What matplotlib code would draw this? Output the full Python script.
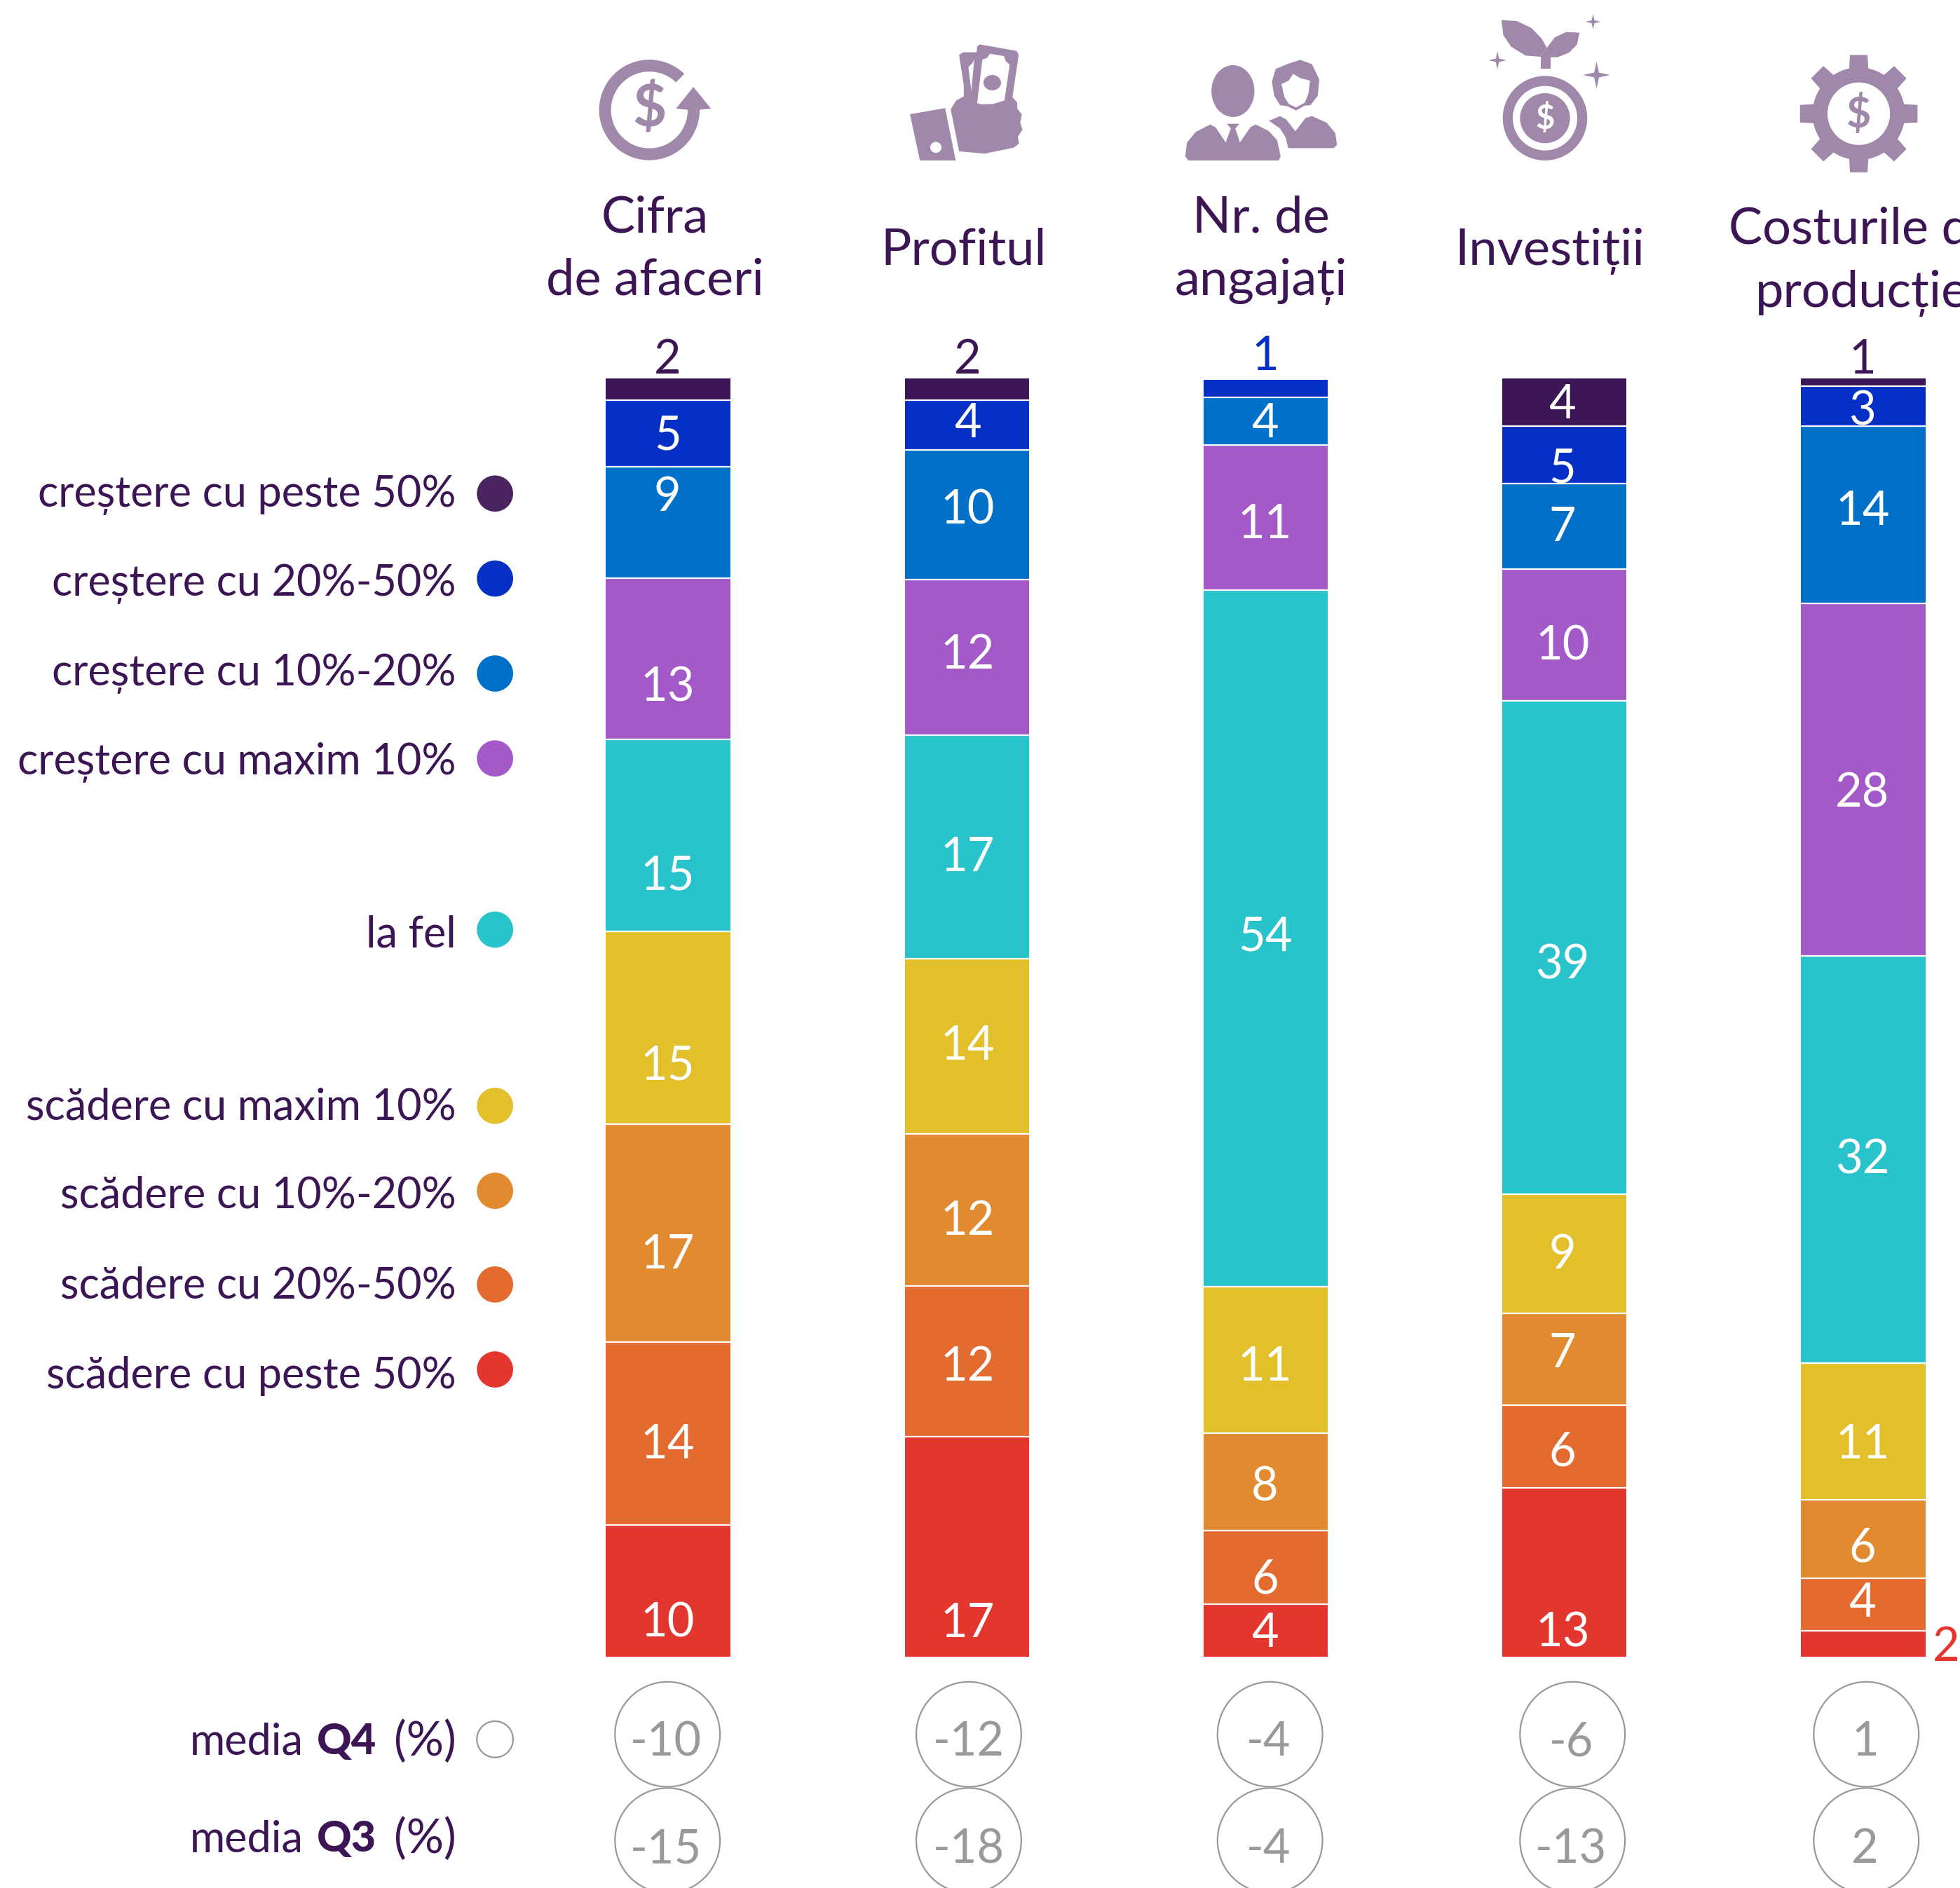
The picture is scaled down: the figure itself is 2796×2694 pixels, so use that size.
import numpy as np
import matplotlib
matplotlib.use('Agg')
import matplotlib.pyplot as plt
from matplotlib.patches import Circle, Ellipse, Polygon, Wedge

plt.rcParams['font.family'] = ['Lato', 'Noto Sans', 'DejaVu Sans']

categories = ['Cifra\nde afaceri', 'Profitul', 'Nr. de\nangajați', 'Investiții', 'Costurile de\nproducție']
series_names = ['creștere cu peste 50%', 'creștere cu 20%-50%', 'creștere cu 10%-20%', 'creștere cu maxim 10%',
                'la fel', 'scădere cu maxim 10%', 'scădere cu 10%-20%', 'scădere cu 20%-50%', 'scădere cu peste 50%']

# bar heights as measured, top segment first
cifra = [1.7, 5.2, 8.7, 12.6, 15.05, 15.05, 17.1, 14.3, 10.3]
profit = [1.7, 3.9, 10.1, 12.2, 17.5, 13.7, 11.9, 11.8, 17.2]
angajati = [0, 1.37, 3.71, 11.34, 54.55, 11.43, 7.63, 5.77, 4.1]
investitii = [3.7, 4.5, 6.7, 10.3, 38.6, 9.3, 7.2, 6.5, 13.2]
costuri = [0.6, 3.13, 13.9, 27.56, 31.87, 10.67, 6.14, 4.11, 2.05]

# printed labels
labels_cifra = [2, 5, 9, 13, 15, 15, 17, 14, 10]
labels_profit = [2, 4, 10, 12, 17, 14, 12, 12, 17]
labels_angajati = [None, 1, 4, 11, 54, 11, 8, 6, 4]
labels_investitii = [4, 5, 7, 10, 39, 9, 7, 6, 13]
labels_costuri = [1, 3, 14, 28, 32, 11, 6, 4, 2]

media_q4 = [-10, -12, -4, -6, 1]
media_q3 = [-15, -18, -4, -13, 2]

colors = ['#3B1554', '#052FC5', '#0070C8', '#A459C8', '#29C4CB', '#E2C02C', '#E28A2F', '#E36B2F', '#E3362F']
TEXT = '#3B1554'
GRAY = '#98999D'
ICON = '#9F88AA'

heights = [cifra, profit, angajati, investitii, costuri]
labels = [labels_cifra, labels_profit, labels_angajati, labels_investitii, labels_costuri]

# label heights, the source places them off-centre
label_y = [[285, 346, 395, 547, 698, 850, 1001, 1153, 1296],
           [285, 336, 405, 521, 683, 834, 974, 1091, 1296],
           [0, 282, 336, 417, 747, 1091, 1187, 1261, 1304],
           [321, 372, 419, 514, 769, 1001, 1080, 1159, 1304],
           [285, 326, 406, 632, 925, 1153, 1236, 1280, 1315]]
label_x = [534, 774, 1012, 1250, 1490]
legend_text_y = [393, 464, 536, 607, 745, 883, 954, 1026, 1098]
legend_dot_y = [395, 463, 539, 607, 744, 885, 953, 1028, 1096]

fig = plt.figure(figsize=(27.96, 26.94), dpi=100)

# bars: y in percent, x in category slots
top_px, bottom_px = 303, 1326
px_per_pct = (bottom_px - top_px) / 100
ax = fig.add_axes([0, 0, 1, 1])
ax.set_xlim((0 - 534.5) / 239, (1568 - 534.5) / 239)
ax.set_ylim((bottom_px - 1511) / px_per_pct, bottom_px / px_per_pct)
ax.axis('off')

for i in range(5):
    bottom = 0
    for j in range(8, -1, -1):
        h = heights[i][j]
        if h > 0:
            ax.bar(i, h, width=0.4165, bottom=bottom, color=colors[j], edgecolor='none')
            if bottom > 0:
                ax.plot([i - 0.2083, i + 0.2083], [bottom, bottom], color='white', lw=1.6, solid_capstyle='butt')
        bottom += h

# overlay in the coordinates of the shrunk reference
ov = fig.add_axes([0, 0, 1, 1])
ov.set_xlim(0, 1568)
ov.set_ylim(1511, 0)
ov.axis('off')
ov.patch.set_alpha(0)

for i in range(5):
    for j in range(9):
        if labels[i][j] is None:
            continue
        c = 'white'
        x = label_x[i]
        if label_y[i][j] < 300:
            c = TEXT if j == 0 else colors[1]
        if i == 4 and j == 8:
            c = colors[8]
            x = 1557
        ov.text(x, label_y[i][j], str(labels[i][j]), color=c, fontsize=48, ha='center', va='center_baseline')

# legend on the left
for name, ty, dy, col in zip(series_names, legend_text_y, legend_dot_y, colors):
    ov.text(365, ty, name, color=TEXT, fontsize=44, ha='right', va='center_baseline')
    ov.add_patch(Circle((396, dy), 14.5, color='#4A2460' if col == colors[0] else col, lw=0))

# headers
ov.text(524, 171, 'Cifra', color=TEXT, fontsize=52, ha='center', va='center_baseline')
ov.text(524, 221, 'de afaceri', color=TEXT, fontsize=52, ha='center', va='center_baseline')
ov.text(771, 197, 'Profitul', color=TEXT, fontsize=52, ha='center', va='center_baseline')
ov.text(1009, 171, 'Nr. de', color=TEXT, fontsize=52, ha='center', va='center_baseline')
ov.text(1009, 221, 'angajați', color=TEXT, fontsize=52, ha='center', va='center_baseline')
ov.text(1240, 197, 'Investiții', color=TEXT, fontsize=52, ha='center', va='center_baseline')
ov.text(1383, 180, 'Costurile de', color=TEXT, fontsize=52, ha='left', va='center_baseline')
ov.text(1404, 231, 'producție', color=TEXT, fontsize=52, ha='left', va='center_baseline')

# media rows
circle_x = [534, 775, 1016, 1258, 1493]
text_x = [533, 775, 1015, 1257, 1492]
for i in range(5):
    ov.add_patch(Circle((circle_x[i], 1388), 42, fc='white', ec=GRAY, lw=1.6))
    ov.add_patch(Circle((circle_x[i], 1473), 42, fc='white', ec=GRAY, lw=1.6))
    ov.text(text_x[i], 1391, str(media_q4[i]), color=GRAY, fontsize=48, ha='center', va='center_baseline')
    ov.text(text_x[i], 1477, str(media_q3[i]), color=GRAY, fontsize=48, ha='center', va='center_baseline')
ov.add_patch(Circle((396, 1392), 14.5, fc='white', ec=GRAY, lw=1.6))


def media_label(y, q):
    r = fig.canvas.get_renderer()
    inv = ov.transData.inverted()
    t = ov.text(365, y, '(%)', color=TEXT, fontsize=48, ha='right', va='center_baseline')
    left = inv.transform(t.get_window_extent(r).get_points())[0][0]
    t = ov.text(left - 14, y, q, color=TEXT, fontsize=44, fontweight='black', ha='right', va='center_baseline')
    left = inv.transform(t.get_window_extent(r).get_points())[0][0]
    ov.text(left - 11, y, 'media', color=TEXT, fontsize=44, ha='right', va='center_baseline')


media_label(1391, 'Q4')
media_label(1469, 'Q3')


# icon outlines were traced in 3x crops of the top strip
def pts(x0, coords):
    return [((x0 + zx / 2.412) / 1.783, zy / 5.35) for zx, zy in coords]


def shape(x0, coords, col=ICON):
    ov.add_patch(Polygon(pts(x0, coords), color=col, lw=0))


def dollar(x, y, size, col=ICON):
    ov.text(x, y, '$', color=col, fontsize=size, fontweight='bold', ha='center', va='center', parse_math=False)


def sparkle(x, y, r):
    k = r * 0.18
    ov.add_patch(Polygon([(x, y - r), (x + k, y - k), (x + r, y), (x + k, y + k),
                          (x, y + r), (x - k, y + k), (x - r, y), (x - k, y - k)], color=ICON, lw=0))


# icon 1, coin with arrow
ov.add_patch(Wedge((519.5, 88), 40.2, 0, 314, width=9.5, color=ICON, lw=0))
shape(820, [(408, 372), (468, 465), (428, 470), (428, 490), (388, 490), (388, 470), (348, 465)])
dollar(519.5, 88, 60)

# icon 2, hand with banknotes
shape(820, [(1153, 489), (1274, 463), (1310, 687), (1187, 687)])
ov.add_patch(Ellipse(pts(820, [(1242, 631)])[0], 9, 8.8, color='white', lw=0))
shape(820, [(1322, 235), (1335, 224), (1382, 224), (1384, 200), (1393, 190), (1520, 218), (1527, 235),
            (1505, 420), (1338, 420), (1338, 365)])
shape(820, [(1354, 287), (1368, 270), (1374, 255), (1364, 390)], 'white')
shape(820, [(1293, 468), (1312, 430), (1338, 413), (1505, 415), (1522, 440), (1522, 465), (1538, 490), (1532, 525),
            (1540, 555), (1524, 585), (1528, 615), (1510, 632), (1410, 658), (1322, 648)])
shape(820, [(1402, 255), (1418, 248), (1428, 230), (1476, 240), (1483, 262), (1496, 277), (1478, 430),
            (1440, 445), (1400, 447), (1384, 442)], 'white')
ov.add_patch(Ellipse(pts(820, [(1436, 354)])[0], 14, 12.3, color=ICON, lw=0))

# icon 3, two people
shape(1660, [(372, 350), (385, 295), (430, 272), (470, 256), (510, 275), (535, 340), (530, 410), (505, 450),
             (485, 452), (455, 473), (425, 455), (400, 450), (380, 410)])
shape(1660, [(405, 360), (430, 345), (445, 316), (470, 335), (503, 345), (498, 400), (485, 440), (455, 460),
             (430, 445), (415, 415)], 'white')
shape(1660, [(362, 517), (400, 497), (420, 510), (453, 562), (488, 505), (510, 497), (560, 525), (590, 570),
             (596, 620), (585, 634), (428, 634), (420, 590), (400, 550)])
ov.add_patch(Ellipse(pts(1660, [(238, 390)])[0], 34.4, 41.5, color=ICON, lw=0))
shape(1660, [(74, 670), (80, 610), (110, 565), (160, 533), (178, 545), (213, 610), (231, 550), (217, 530), (260, 530),
             (246, 550), (262, 610), (298, 545), (316, 533), (360, 560), (390, 600), (402, 670), (395, 687), (85, 687)])

# icon 4, coin with plant
shape(1660, [(1162, 86), (1215, 90), (1265, 120), (1300, 165), (1318, 205), (1296, 243), (1245, 238), (1195, 200), (1168, 150)])
shape(1660, [(1318, 205), (1345, 160), (1385, 137), (1430, 140), (1422, 190), (1395, 225), (1355, 245), (1330, 245), (1296, 243)])
shape(1660, [(1296, 240), (1330, 240), (1330, 293), (1296, 293)])
ov.add_patch(Circle((1236, 94.6), 33.8, color=ICON, lw=0))
ov.add_patch(Circle((1236, 94.6), 25.8, color='white', lw=0))
ov.add_patch(Circle((1236, 94.6), 20, color=ICON, lw=0))
dollar(1236, 95, 34, 'white')
sparkle(*pts(1660, [(1477, 93)])[0], 6.2)
sparkle(*pts(1660, [(1148, 258)])[0], 7.2)
sparkle(*pts(1660, [(1489, 321)])[0], 10.8)

# icon 5, gear
ov.add_patch(Circle((1487, 91), 37, color=ICON, lw=0))
for a in np.arange(0, 360, 45):
    t = np.radians(a)
    u = np.array([np.cos(t), np.sin(t)])
    n = np.array([-u[1], u[0]])
    c = np.array([1487, 91])
    ov.add_patch(Polygon([c + 30 * u + 8 * n, c + 47 * u + 7 * n, c + 47 * u - 7 * n, c + 30 * u - 8 * n], color=ICON, lw=0))
ov.add_patch(Circle((1487, 91), 25, color='white', lw=0))
dollar(1487, 91, 44)

fig.savefig('out.png', dpi=100)
